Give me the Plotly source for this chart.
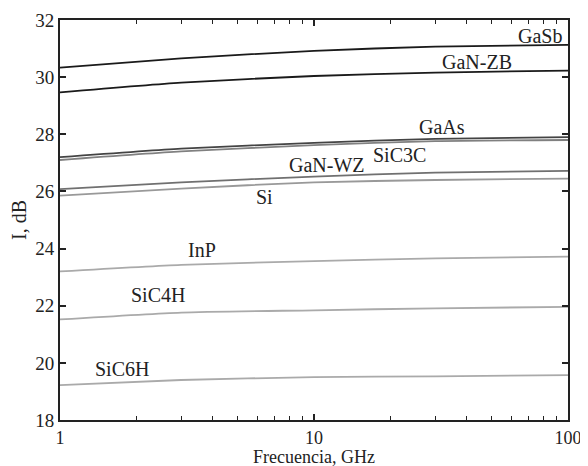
import math
import plotly.graph_objects as go

freq = [1, 3, 10, 30, 100]
names = ["GaSb", "GaN-ZB", "GaAs", "SiC3C", "GaN-WZ", "Si", "InP", "SiC4H", "SiC6H"]
GaSb = [30.33, 30.66, 30.92, 31.07, 31.13]
GaN_ZB = [29.47, 29.81, 30.04, 30.16, 30.23]
GaAs = [27.20, 27.50, 27.70, 27.84, 27.90]
SiC3C = [27.10, 27.40, 27.62, 27.76, 27.80]
GaN_WZ = [26.08, 26.32, 26.52, 26.66, 26.72]
Si = [25.85, 26.10, 26.32, 26.40, 26.45]
InP = [23.20, 23.43, 23.56, 23.66, 23.72]
SiC4H = [21.52, 21.76, 21.84, 21.91, 21.96]
SiC6H = [19.22, 19.40, 19.50, 19.53, 19.57]
series = [GaSb, GaN_ZB, GaAs, SiC3C, GaN_WZ, Si, InP, SiC4H, SiC6H]
colors = ["#1a1a1a", "#1a1a1a", "#444444", "#808080", "#707070", "#999999",
          "#aaaaaa", "#aaaaaa", "#aaaaaa"]

label_x = [77.6, 43.7, 31.8, 21.7, 11.2, 6.37, 3.61, 2.44, 1.75]
label_y = [31.44, 30.52, 28.27, 27.28, 26.92, 25.82, 23.95, 22.37, 19.77]

font = "Liberation Serif, Times New Roman, serif"
fig = go.Figure()
for n, ys, c in zip(names, series, colors):
    fig.add_trace(go.Scatter(x=freq, y=ys, mode="lines", name=n,
                             line=dict(color=c, width=1.8, shape="spline", smoothing=0.6),
                             showlegend=False))
for n, lx, ly in zip(names, label_x, label_y):
    fig.add_annotation(x=math.log10(lx), y=ly, xref="x", yref="y", text=n, showarrow=False,
                       font=dict(family=font, size=20, color="#222"))

fig.add_annotation(x=0.5, y=-0.092, xref="paper", yref="paper", text="Frecuencia, GHz",
                   showarrow=False, xanchor="center", yanchor="middle",
                   font=dict(family=font, size=18, color="#222"))

fig.update_layout(
    width=580, height=458,
    margin=dict(l=52, r=20, t=12, b=46),
    paper_bgcolor="white", plot_bgcolor="white",
    font=dict(family=font, size=19, color="#222"),
)
fig.update_xaxes(type="log", range=[0, 2], tickvals=[1, 10, 100], ticktext=["1", "10", "100"],
                 automargin=False, ticklabelstandoff=0, tickfont=dict(size=18),
                 ticks="inside", ticklen=6, tickwidth=1.5, tickcolor="#222",
                 minor=dict(ticks="inside", ticklen=4, tickcolor="#222", tickwidth=1.2, dtick="D1", showgrid=False),
                 showline=True, linecolor="#222", linewidth=2, mirror="allticks",
                 showgrid=False, zeroline=False)
fig.update_yaxes(range=[18, 32], dtick=2, ticks="inside", ticklen=6, tickwidth=1.5, tickcolor="#222",
                 automargin=False,
                 showline=True, linecolor="#222", linewidth=2, mirror="allticks",
                 showgrid=False, zeroline=False,
                 title=dict(text="I, dB", standoff=4, font=dict(size=20)))
fig.write_html("out.html")
